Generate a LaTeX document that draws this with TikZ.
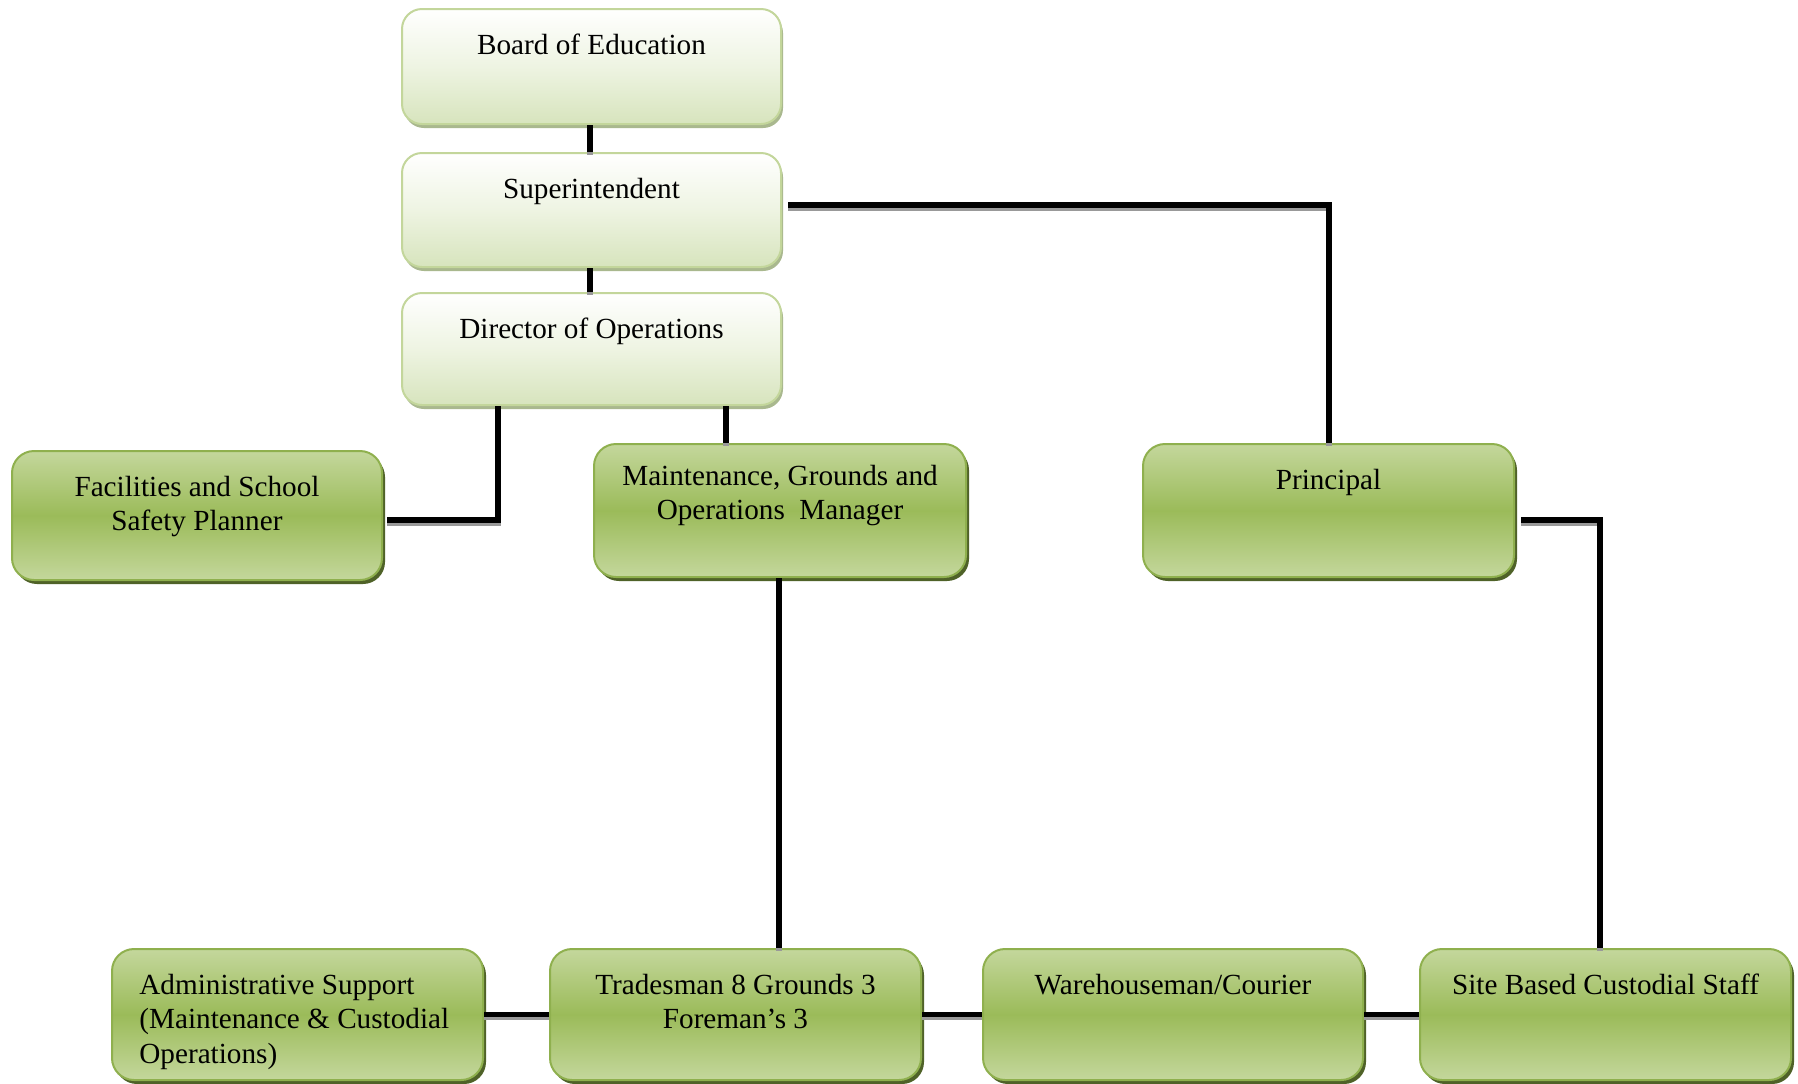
\documentclass[tikz,border=0pt]{standalone}
\usepackage{fontspec}
\setmainfont{Liberation Serif}
\usetikzlibrary{shadows,calc}
\definecolor{paleTop}{HTML}{FFFFFF}
\definecolor{paleMid}{HTML}{EEF4E2}
\definecolor{paleBot}{HTML}{D7E4BD}
\definecolor{paleLine}{HTML}{C3D69B}
\definecolor{paleShadow}{HTML}{A9B88E}
\definecolor{grnLight}{HTML}{C4D79C}
\definecolor{grnMid}{HTML}{9BBB59}
\definecolor{grnLine}{HTML}{8FB04E}
\definecolor{grnShadow}{HTML}{4F6228}
\begin{document}
\begin{tikzpicture}[x=0.5pt,y=-0.5pt,
  palebox/.style={draw=paleLine, line width=1pt, rounded corners=10pt,
    top color=paleTop, bottom color=paleBot, middle color=paleMid,
    drop shadow={shadow xshift=1pt, shadow yshift=-2pt, fill=paleShadow, opacity=1},
    inner sep=0pt},
  grnbox/.style={draw=grnLine, line width=1pt, rounded corners=11pt,
    top color=grnLight, bottom color=grnLight, middle color=grnMid,
    drop shadow={shadow xshift=1.5pt, shadow yshift=-2pt, fill=grnShadow, opacity=1},
    inner sep=0pt},
  lbl/.style={anchor=north, align=center, inner sep=0pt,
    font=\fontsize{14.6pt}{17.2pt}\selectfont},
  conn/.style={draw=black, line width=2.7pt,
    preaction={draw=black!40, line width=2.7pt, transform canvas={yshift=-1.5pt}}}
]
\useasboundingbox (0,0) rectangle (1798,1083);
\fill[white] (0,0) rectangle (1798,1083);
\clip (0,0) rectangle (1798,1083);

% boxes
\node[palebox, minimum width=189.5pt, minimum height=57.5pt] (boe) at (591.5,66.5) {};
\node[palebox, minimum width=189.5pt, minimum height=57pt] (sup) at (591.5,210) {};
\node[palebox, minimum width=189.5pt, minimum height=56pt] (dir) at (591.5,349) {};
\node[grnbox, minimum width=185pt, minimum height=64.5pt] (fac) at (197,515.5) {};
\node[grnbox, minimum width=186pt, minimum height=66.5pt] (mgr) at (780,510.5) {};
\node[grnbox, minimum width=185.5pt, minimum height=66.5pt] (pri) at (1328.5,510.5) {};
\node[grnbox, minimum width=185.5pt, minimum height=65.5pt] (adm) at (297.5,1014.5) {};
\node[grnbox, minimum width=185.5pt, minimum height=65.5pt] (trd) at (735.5,1014.5) {};
\node[grnbox, minimum width=190pt, minimum height=65.5pt] (war) at (1173,1014.5) {};
\node[grnbox, minimum width=185.5pt, minimum height=65.5pt] (sit) at (1605.5,1014.5) {};

% labels
\node[lbl] (boeT) at ([yshift=-11pt]boe.north) {\strut Board of Education};
\node[lbl] (supT) at ([yshift=-11pt]sup.north) {\strut Superintendent};
\node[lbl] (dirT) at ([yshift=-11pt]dir.north) {\strut Director of Operations};
\node[lbl] (facT) at ([yshift=-11pt]fac.north) {\strut Facilities and School\\Safety Planner};
\node[lbl] (mgrT) at ([yshift=-9pt]mgr.north) {\strut Maintenance, Grounds and\\Operations~ Manager};
\node[lbl] (priT) at ([yshift=-11pt]pri.north) {\strut Principal};
\node[lbl, anchor=north west, align=left] (admT) at ($(adm.north west)+(28,22)$) {\strut Administrative Support\\(Maintenance \& Custodial\\Operations)};
\node[lbl] (trdT) at ([yshift=-11pt]trd.north) {\strut Tradesman 8 Grounds 3\\Foreman’s 3};
\node[lbl] (warT) at ([yshift=-11pt]war.north) {\strut Warehouseman/Courier};
\node[lbl] (sitT) at ([yshift=-11pt]sit.north) {\strut Site Based Custodial Staff};

% connectors
\draw[conn] (boe.south -| 590,0) -- (sup.north -| 590,0);
\draw[conn] (sup.south -| 590,0) -- (dir.north -| 590,0);
\draw[conn] ($(sup.east)+(6,-5)$) -- (1329,205) -- (pri.north -| 1329,0);
\draw[conn] (dir.south -| 498,0) |- ($(fac.east)+(4,4.5)$);
\draw[conn] (dir.south -| 726,0) -- (mgr.north -| 726,0);
\draw[conn] (mgr.south -| 779,0) -- (trd.north -| 779,0);
\draw[conn] ($(pri.east)+(6,9.5)$) -| (sit.north -| 1600,0);
\draw[conn] (adm.east) -- (trd.west);
\draw[conn] (trd.east) -- (war.west);
\draw[conn] (war.east) -- (sit.west);
\end{tikzpicture}
\end{document}
